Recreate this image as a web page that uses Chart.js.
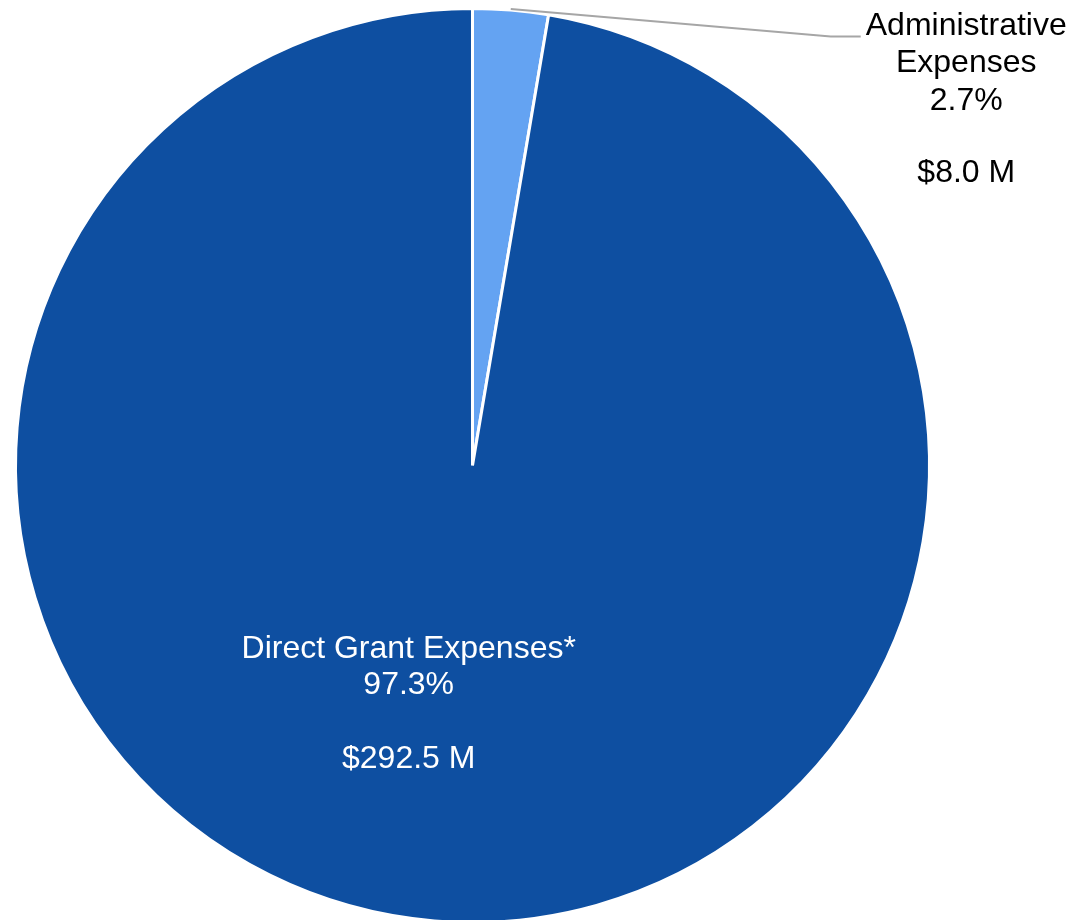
<!DOCTYPE html>
<html>
<head>
<meta charset="utf-8">
<script src="https://cdn.jsdelivr.net/npm/chart.js@4/dist/chart.umd.min.js"></script>
<style>
html,body{margin:0;padding:0;background:#fff;overflow:hidden;}
#wrap{width:1071px;height:920px;position:relative;overflow:hidden;}
</style>
</head>
<body>
<div id="wrap"><canvas id="c" width="1071" height="930"></canvas></div>
<script>
const categories = ["Administrative Expenses", "Direct Grant Expenses*"];
const labelLines = [["Administrative", "Expenses"], ["Direct Grant Expenses*"]];
const values = [8.0, 292.5];
const percents = ["2.7%", "97.3%"];
const amounts = ["$8.0 M", "$292.5 M"];
const colors = ["#64A3F2", "#0E4FA1"];

const FONT = '32px "Liberation Sans", Arial, sans-serif';

const labelPlugin = {
  id: 'pieLabels',
  afterDatasetsDraw(chart) {
    const ctx = chart.ctx;
    const meta = chart.getDatasetMeta(0);
    const a0 = meta.data[0];
    const cx = a0.x, cy = a0.y, r = a0.outerRadius;
    ctx.save();
    ctx.font = FONT;
    ctx.textAlign = 'center';
    ctx.textBaseline = 'middle';

    // Admin label (outside, with leader line)
    const mid = (a0.startAngle + a0.endAngle) / 2;
    const sx = cx + Math.cos(mid) * (r + 1);
    const sy = cy + Math.sin(mid) * (r + 1);
    const ex = cx + r * 0.8495;
    const ey = cy - r * 0.9389;
    ctx.strokeStyle = '#A6A6A6';
    ctx.lineWidth = 2;
    ctx.beginPath();
    ctx.moveTo(sx, sy);
    ctx.lineTo(ex - 30, ey);
    ctx.lineTo(ex, ey);
    ctx.stroke();
    const lx = cx + r * 1.0804;
    const ly = cy - r * 0.9607;
    ctx.fillStyle = '#000';
    const l0 = [...labelLines[0], percents[0], amounts[0]];
    const off0 = [0, 37, 75, 147];
    l0.forEach((t, i) => ctx.fillText(t, lx, ly + off0[i]));

    // Direct grant label (inside)
    const bx = cx - r * 0.1396;
    const by = cy + r * 0.4024;
    ctx.fillStyle = '#fff';
    const l1 = [...labelLines[1], percents[1], amounts[1]];
    const off1 = [0, 36, 110];
    l1.forEach((t, i) => ctx.fillText(t, bx, by + off1[i]));
    ctx.restore();
  }
};

new Chart(document.getElementById('c'), {
  type: 'pie',
  data: {
    labels: categories,
    datasets: [{
      data: values,
      backgroundColor: colors,
      borderColor: '#ffffff',
      borderWidth: 3
    }]
  },
  options: {
    responsive: false,
    animation: false,
    layout: { padding: { left: 14, right: 140, top: 7, bottom: 6 } },
    plugins: { legend: { display: false }, tooltip: { enabled: false } }
  },
  plugins: [labelPlugin]
});
</script>
</body>
</html>
